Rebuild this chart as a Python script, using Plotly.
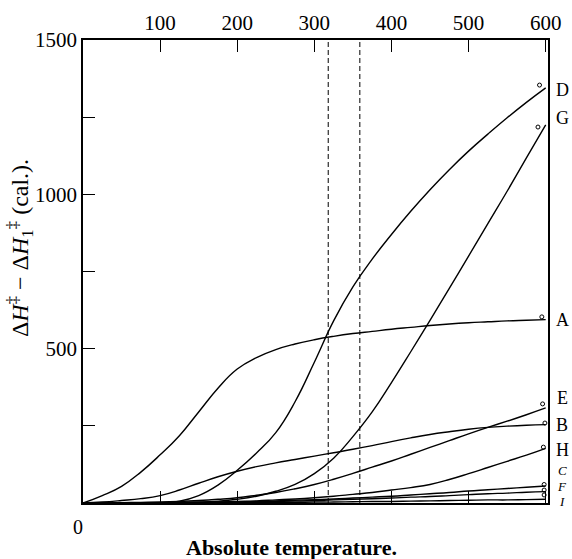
import plotly.graph_objects as go

# Temperature grid (absolute temperature)
T = [0, 25, 50, 75, 100, 125, 150, 175, 200, 225, 250, 275, 300,
     325, 350, 375, 400, 425, 450, 475, 500, 525, 550, 575, 600]

# Curves (cal.)
A = [0, 24, 54, 100, 156, 218, 295, 372, 434, 471, 497, 515, 529,
     540, 549, 556, 563, 569, 575, 580, 584, 587, 590, 592, 594]
D = [0, 0, 0, 0, 1, 6, 24, 58, 106, 162, 228, 328, 456,
     590, 700, 790, 870, 945, 1015, 1080, 1140, 1195, 1248, 1298, 1345]
G = [0, 0, 0, 0, 0, 1, 3, 6, 12, 22, 38, 60, 95,
     145, 215, 295, 390, 490, 592, 695, 800, 905, 1010, 1118, 1225]
B = [0, 3, 8, 14, 24, 42, 64, 85, 103, 118, 130, 141, 152,
     163, 174, 186, 199, 211, 222, 231, 239, 245, 249, 252, 254]
E = [0, 0, 1, 2, 3, 5, 8, 12, 17, 25, 34, 46, 60,
     77, 96, 116, 136, 158, 180, 202, 224, 245, 265, 286, 308]
H = [0, 0, 0, 0, 1, 1, 2, 3, 5, 7, 10, 13, 17,
     22, 28, 34, 42, 50, 60, 76, 95, 115, 135, 155, 177]
C = [0, 0, 0, 0, 1, 1, 2, 3, 4, 5, 7, 9, 11,
     13, 16, 19, 22, 26, 30, 34, 39, 43, 47, 51, 55]
F = [0, 0, 0, 0, 0, 1, 1, 2, 3, 4, 5, 6, 8,
     10, 12, 14, 16, 19, 21, 24, 27, 30, 32, 35, 37]
I = [0, 0, 0, 0, 0, 0, 0, 1, 1, 1, 2, 2, 3,
     3, 4, 5, 5, 6, 7, 8, 9, 10, 10, 11, 12]

curve_names = ["D", "G", "A", "E", "B", "H", "C", "F", "I"]
curve_values = [D, G, A, E, B, H, C, F, I]

# Small observed points near the curve ends
obs_T = [592, 590, 595, 596, 599, 597, 598, 598, 598]
obs_val = [1354, 1218, 603, 321, 259, 181, 60, 42, 26]

# Dashed reference temperatures
dashed_T = [318, 359]

# Tick values
x_ticks = [100, 200, 300, 400, 500, 600]
y_ticks = [250, 500, 750, 1000, 1250, 1500]
y_ticktext = ["", "500", "", "1000", "", "1500"]

# Label positions on the right (layout)
label_y = [1338, 1247, 593, 340, 253, 172, 104, 55, 6]
label_italic = [False, False, False, False, False, False, True, True, True]

FONT = "Liberation Serif"

fig = go.Figure()
for name, vals in zip(curve_names, curve_values):
    fig.add_trace(go.Scatter(
        x=T, y=vals, mode="lines", name=name,
        line=dict(color="black", width=1.4, shape="spline", smoothing=1.3),
        showlegend=False, hoverinfo="skip"))

fig.add_trace(go.Scatter(
    x=obs_T, y=obs_val, mode="markers", showlegend=False, hoverinfo="skip",
    marker=dict(symbol="circle-open", size=4, color="black",
                line=dict(width=1, color="black"))))

for t in dashed_T:
    fig.add_vline(x=t, line=dict(color="black", width=1, dash="5px,3px"))

for name, yl, it in zip(curve_names, label_y, label_italic):
    fig.add_annotation(
        x=1.031, xref="paper", y=yl, yref="y",
        text=(f"<i>{name}</i>" if it else name), showarrow=False,
        xanchor="center", yanchor="middle",
        font=dict(family=FONT, size=13 if it else 18, color="black"))

fig.add_annotation(
    x=-0.135, xref="paper", y=0.551, yref="paper", textangle=-90,
    text="Δ<i>H</i><sup>‡</sup> − Δ<i>H</i><sub>1</sub><sup>‡</sup> (cal.).",
    showarrow=False, xanchor="center", yanchor="middle",
    font=dict(family=FONT, size=24, color="black"))

fig.add_annotation(
    x=0.449, xref="paper", y=-0.097, yref="paper",
    text="<b>Absolute temperature.</b>", showarrow=False,
    xanchor="center", yanchor="middle",
    font=dict(family=FONT, size=22, color="black"))

fig.add_annotation(
    x=-0.011, xref="paper", y=-0.052, yref="paper", text="0",
    showarrow=False, xanchor="center", yanchor="middle",
    font=dict(family=FONT, size=20, color="black"))

fig.update_layout(
    width=572, height=559,
    margin=dict(l=83, r=24, t=40, b=56, autoexpand=False),
    paper_bgcolor="white", plot_bgcolor="white",
    font=dict(family=FONT, color="black"),
    xaxis=dict(range=[0, 603], side="top", tickvals=x_ticks,
               ticks="inside", ticklen=12, tickwidth=1.2, tickcolor="black",
               mirror="allticks", showline=True, linewidth=1.5,
               linecolor="black", showgrid=False, zeroline=False,
               automargin=False,
               tickfont=dict(family=FONT, size=21, color="black")),
    yaxis=dict(range=[0, 1500], tickvals=y_ticks, ticktext=y_ticktext,
               ticks="inside", ticklen=12, tickwidth=1.2, tickcolor="black",
               mirror=True, showline=True, linewidth=1.5,
               linecolor="black", showgrid=False, zeroline=False,
               automargin=False,
               tickfont=dict(family=FONT, size=21, color="black")),
)

fig.write_html("out.html",
               config={"displayModeBar": False},
               post_script="document.body.style.margin='0';"
                           "document.body.style.overflow='hidden';")
